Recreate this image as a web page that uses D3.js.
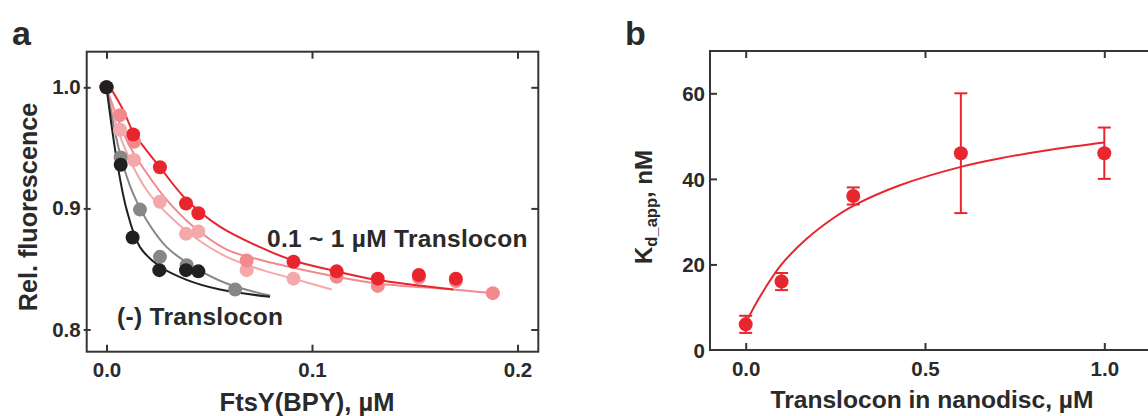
<!DOCTYPE html>
<html>
<head>
<meta charset="utf-8">
<script src="https://cdn.jsdelivr.net/npm/d3@7"></script>
<style>
  body { margin: 0; background: #fff; }
  svg text { font-family: "Liberation Sans", Arial, sans-serif; font-weight: bold; fill: #2a2a2a; }
  .tick text { font-size: 20.5px; }
</style>
</head>
<body>
<div id="chart"></div>
<script>
// ---- panel a: FtsY(BPY) titration ----
var ticksAx = [0, 0.1, 0.2];
var ticksAy = [0.8, 0.9, 1.0];

// (-) translocon, two runs
var blackX = [0, 0.0069, 0.0127, 0.0257, 0.0387, 0.0447];
var blackY = [1.0, 0.936, 0.876, 0.849, 0.849, 0.848];
var greyX = [0, 0.0069, 0.0163, 0.026, 0.039, 0.0626];
var greyY = [1.0, 0.942, 0.899, 0.860, 0.853, 0.833];

// 0.1 ~ 1 uM translocon
var redX = [0, 0.013, 0.026, 0.0387, 0.0447, 0.091, 0.112, 0.132, 0.152, 0.170];
var redY = [1.0, 0.961, 0.934, 0.904, 0.896, 0.856, 0.848, 0.842, 0.845, 0.842];
var pinkX = [0.0066, 0.0134, 0.0682, 0.112, 0.132, 0.152, 0.170, 0.188];
var pinkY = [0.977, 0.955, 0.857, 0.8436, 0.836, 0.843, 0.840, 0.830];
var lightX = [0.0066, 0.0134, 0.026, 0.0387, 0.0447, 0.0682, 0.091];
var lightY = [0.965, 0.940, 0.9055, 0.879, 0.881, 0.849, 0.842];

// fitted curves
var blackFitX = [0, 0.005, 0.0098, 0.0163, 0.026, 0.039, 0.0552, 0.0796];
var blackFitY = [1.0, 0.94, 0.899, 0.868, 0.852, 0.841, 0.833, 0.827];
var greyFitX = [0, 0.0066, 0.013, 0.0196, 0.0293, 0.0422, 0.0585, 0.0796];
var greyFitY = [1.0, 0.945, 0.912, 0.890, 0.868, 0.852, 0.838, 0.828];
var redFitX = [0, 0.0082, 0.013, 0.026, 0.039, 0.0552, 0.0747, 0.0909, 0.112, 0.1315, 0.1688];
var redFitY = [1.005, 0.981, 0.963, 0.934, 0.907, 0.885, 0.868, 0.857, 0.848, 0.841, 0.833];
var pinkFitX = [0, 0.005, 0.0114, 0.0196, 0.0293, 0.0422, 0.0585, 0.0760, 0.0909, 0.112, 0.1315, 0.1688, 0.188];
var pinkFitY = [1.0, 0.976, 0.951, 0.929, 0.907, 0.885, 0.866, 0.857, 0.851, 0.8436, 0.838, 0.833, 0.830];
var lightFitX = [0, 0.005, 0.0114, 0.0196, 0.0293, 0.0422, 0.0585, 0.0760, 0.0909, 0.1096];
var lightFitY = [1.0, 0.9675, 0.940, 0.915, 0.896, 0.877, 0.860, 0.849, 0.842, 0.833];

// ---- panel b: Kd_app vs translocon ----
var ticksBx = [0, 0.5, 1.0];
var ticksBy = [0, 20, 40, 60];
var kdX = [0, 0.1, 0.3, 0.6, 1.0];
var kdY = [6, 16, 36, 46, 46];
var kdErr = [2, 2, 2, 14, 6];
var kdFitX = [0, 0.04, 0.1, 0.17, 0.244, 0.3, 0.43, 0.6, 0.71, 0.85, 1.0];
var kdFitY = [6.3, 12.5, 20.0, 26.0, 30.8, 33.7, 38.5, 42.8, 44.8, 46.8, 48.5];

var W = 1148, H = 416;
var frameCol = "#353535";

var svg = d3.select("#chart").append("svg")
  .attr("width", W)
  .attr("height", H);

svg.append("rect").attr("width", W).attr("height", H).attr("fill", "#fff");

function zip(xs, ys) {
  return xs.map(function (d, i) { return [d, ys[i]]; });
}

// ================= panel a =================
var xA = d3.scaleLinear().domain([0, 0.2]).range([106.5, 517.5]);
var yA = d3.scaleLinear().domain([0.8, 1.0]).range([329.5, 87.3]);
var boxA = { x0: 86.7, y0: 51.7, x1: 538.3, y1: 351.7 };

var gA = svg.append("g");

gA.append("rect")
  .attr("x", boxA.x0).attr("y", boxA.y0)
  .attr("width", boxA.x1 - boxA.x0).attr("height", boxA.y1 - boxA.y0)
  .attr("fill", "none").attr("stroke", frameCol).attr("stroke-width", 2);

var fmt1 = d3.format(".1f");

var axA_left = gA.append("g").attr("transform", "translate(" + boxA.x0 + ",0)")
  .call(d3.axisLeft(yA).tickValues(ticksAy).tickFormat(fmt1).tickSize(-4).tickPadding(6));
axA_left.selectAll("line").attr("x1", -3);
var axA_right = gA.append("g").attr("transform", "translate(" + boxA.x1 + ",0)")
  .call(d3.axisRight(yA).tickValues(ticksAy).tickSize(-7).tickFormat(""));
var axA_bottom = gA.append("g").attr("transform", "translate(0," + boxA.y1 + ")")
  .call(d3.axisBottom(xA).tickValues(ticksAx).tickFormat(fmt1).tickSize(-7).tickPadding(11));
var axA_top = gA.append("g").attr("transform", "translate(0," + boxA.y0 + ")")
  .call(d3.axisTop(xA).tickValues(ticksAx).tickSize(-7).tickFormat(""));

[axA_left, axA_right, axA_bottom, axA_top].forEach(function (a) {
  a.select(".domain").remove();
  a.selectAll("line").attr("stroke", frameCol).attr("stroke-width", 2);
  a.selectAll("text").attr("fill", "#2a2a2a");
});

var lineA = d3.line()
  .x(function (d) { return xA(d[0]); })
  .y(function (d) { return yA(d[1]); })
  .curve(d3.curveCatmullRom.alpha(0.5));

var seriesA = [
  { fx: lightFitX, fy: lightFitY, px: lightX, py: lightY, col: "#f5a8aa" },
  { fx: pinkFitX, fy: pinkFitY, px: pinkX, py: pinkY, col: "#f2898c" },
  { fx: redFitX, fy: redFitY, px: redX, py: redY, col: "#e8252d" },
  { fx: greyFitX, fy: greyFitY, px: greyX, py: greyY, col: "#878787" },
  { fx: blackFitX, fy: blackFitY, px: blackX, py: blackY, col: "#202020" }
];

seriesA.forEach(function (s) {
  gA.append("path")
    .datum(zip(s.fx, s.fy))
    .attr("d", lineA)
    .attr("fill", "none")
    .attr("stroke", s.col)
    .attr("stroke-width", 2);
});

seriesA.forEach(function (s) {
  gA.selectAll(null)
    .data(zip(s.px, s.py))
    .enter()
    .append("circle")
    .attr("cx", function (d) { return xA(d[0]); })
    .attr("cy", function (d) { return yA(d[1]); })
    .attr("r", 7)
    .attr("fill", s.col);
});

gA.append("text")
  .attr("x", 267).attr("y", 247)
  .style("font-size", "24.5px")
  .style("letter-spacing", "0.3px")
  .text("0.1 ~ 1 \u00b5M Translocon");

gA.append("text")
  .attr("x", 117).attr("y", 325)
  .style("font-size", "24.5px")
  .style("letter-spacing", "0.3px")
  .text("(-) Translocon");

gA.append("text")
  .attr("transform", "translate(37,207) rotate(-90)")
  .attr("text-anchor", "middle")
  .style("font-size", "25.2px")
  .text("Rel. fluorescence");

gA.append("text")
  .attr("x", 307).attr("y", 411)
  .attr("text-anchor", "middle")
  .style("font-size", "25.5px")
  .text("FtsY(BPY), \u00b5M");

svg.append("text")
  .attr("x", 12).attr("y", 45)
  .style("font-size", "34px")
  .text("a");

// ================= panel b =================
var xB = d3.scaleLinear().domain([0, 1]).range([745.7, 1104.3]);
var yB = d3.scaleLinear().domain([0, 60]).range([350, 93.3]);
var boxB = { x0: 710, y0: 51, x1: 1162, y1: 350 };

var gB = svg.append("g");

gB.append("rect")
  .attr("x", boxB.x0).attr("y", boxB.y0)
  .attr("width", boxB.x1 - boxB.x0).attr("height", boxB.y1 - boxB.y0)
  .attr("fill", "none").attr("stroke", frameCol).attr("stroke-width", 2);

var axB_left = gB.append("g").attr("transform", "translate(" + boxB.x0 + ",0)")
  .call(d3.axisLeft(yB).tickValues(ticksBy).tickFormat(d3.format("d")).tickSize(-7).tickPadding(5));
var axB_bottom = gB.append("g").attr("transform", "translate(0," + boxB.y1 + ")")
  .call(d3.axisBottom(xB).tickValues(ticksBx).tickFormat(fmt1).tickSize(-7).tickPadding(11));
var axB_top = gB.append("g").attr("transform", "translate(0," + boxB.y0 + ")")
  .call(d3.axisTop(xB).tickValues(ticksBx).tickSize(-7).tickFormat(""));

[axB_left, axB_bottom, axB_top].forEach(function (a) {
  a.select(".domain").remove();
  a.selectAll("line").attr("stroke", frameCol).attr("stroke-width", 2);
  a.selectAll("text").attr("fill", "#2a2a2a");
});
// the 0 tick sits on the frame corner
axB_left.selectAll(".tick").filter(function (d) { return d === 0; }).select("line").remove();
axB_left.selectAll(".tick text").attr("dy", "0.36em");

var redB = "#e8262e";

var lineB = d3.line()
  .x(function (d) { return xB(d[0]); })
  .y(function (d) { return yB(d[1]); })
  .curve(d3.curveCatmullRom.alpha(0.5));

gB.append("path")
  .datum(zip(kdFitX, kdFitY))
  .attr("d", lineB)
  .attr("fill", "none")
  .attr("stroke", redB)
  .attr("stroke-width", 2);

var ptsB = kdX.map(function (d, i) { return { x: d, y: kdY[i], e: kdErr[i] }; });

var eb = gB.selectAll(".eb").data(ptsB).enter().append("g").attr("class", "eb");
eb.append("line")
  .attr("x1", function (d) { return xB(d.x); })
  .attr("x2", function (d) { return xB(d.x); })
  .attr("y1", function (d) { return yB(d.y - d.e); })
  .attr("y2", function (d) { return yB(d.y + d.e); })
  .attr("stroke", redB).attr("stroke-width", 2);
[-1, 1].forEach(function (sgn) {
  eb.append("line")
    .attr("x1", function (d) { return xB(d.x) - 6.5; })
    .attr("x2", function (d) { return xB(d.x) + 6.5; })
    .attr("y1", function (d) { return yB(d.y + sgn * d.e); })
    .attr("y2", function (d) { return yB(d.y + sgn * d.e); })
    .attr("stroke", redB).attr("stroke-width", 2);
});
eb.append("circle")
  .attr("cx", function (d) { return xB(d.x); })
  .attr("cy", function (d) { return yB(d.y); })
  .attr("r", 7)
  .attr("fill", redB);

var kLab = gB.append("text")
  .attr("transform", "translate(652,207) rotate(-90)")
  .attr("text-anchor", "middle")
  .style("font-size", "24px");
kLab.append("tspan").text("K");
kLab.append("tspan").attr("dy", 5).style("font-size", "16.5px").text("d_app");
kLab.append("tspan").attr("dy", -5).text(", nM");

gB.append("text")
  .attr("x", 932).attr("y", 408)
  .attr("text-anchor", "middle")
  .style("font-size", "24.6px")
  .text("Translocon in nanodisc, \u00b5M");

svg.append("text")
  .attr("x", 625).attr("y", 45)
  .style("font-size", "34px")
  .text("b");
</script>
</body>
</html>
